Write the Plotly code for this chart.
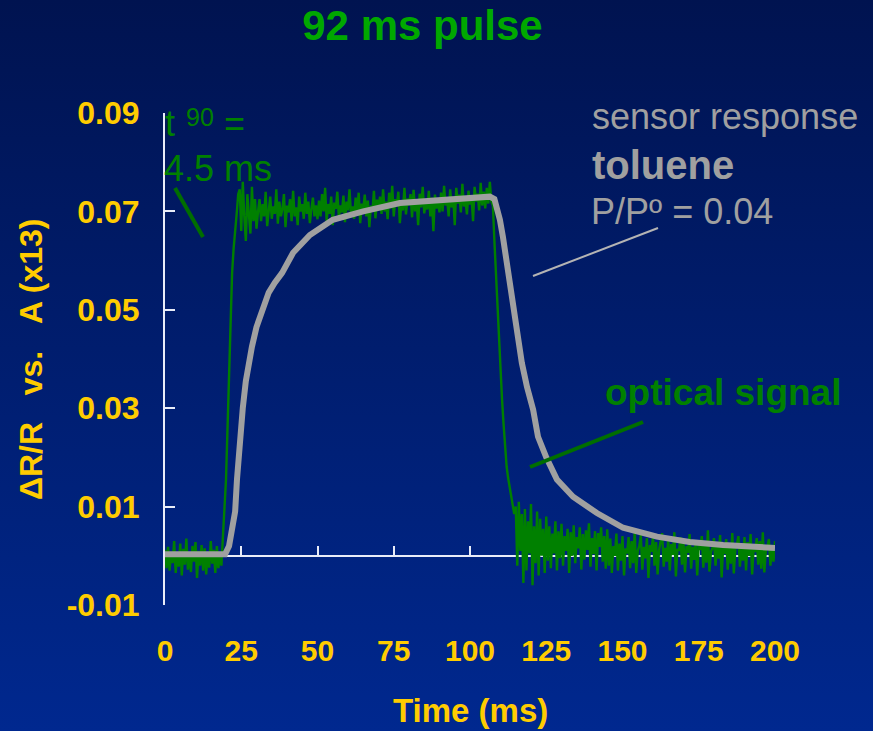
import base64
import numpy as np
import plotly.graph_objects as go

# ---------------------------------------------------------------
# Data (values in units of 1e-4 of dR/R), optical signal sampled every 0.5 ms
# ---------------------------------------------------------------
STEP_MS = 0.5

optical_baseline = [12, -25, 18, -30, 8, -15, 30, -35, 5, -22,
                    25, -40, 14, -18, 35, -28, 2, -33, 20, -12,
                    28, -45, 10, -20, 22, -30, 15, -38, 6, -24,
                    30, -16, 12, -35, 20, -25, 8, -20]                 # 0 - 18.5 ms
optical_rise = [40, 90, 155, 260, 380, 480, 575, 625, 655, 695, 735]  # 19 - 24 ms
optical_plateau = [
    745, 660, 760, 690, 640, 735, 700, 655, 750, 680, 725, 665,
    700, 725, 680, 715, 690, 740, 670, 705, 730, 685, 710, 695, 745, 675, 720, 690,
    705, 735, 668, 712, 698, 725, 680, 742, 690, 708, 672, 730, 700, 715, 685, 738,
    695, 720, 676, 705, 728, 690, 712, 684,
    722, 690, 735, 700, 748, 680, 715, 695, 730, 672, 718, 705, 740, 688, 712, 698,
    732, 678, 720, 702, 745, 692, 710, 685, 728, 700, 738, 676, 716, 704, 734, 690,
    722, 668, 712, 700, 742, 686, 724, 706,
    730, 695, 745, 700, 720, 684, 738, 706, 752, 690, 725, 710, 740, 676, 718, 702,
    748, 694, 726, 712, 735, 688, 744, 700, 722, 672, 736, 708, 750, 696, 718, 704,
    742, 690, 728, 660, 734, 706, 720, 698,
    738, 700, 752, 712, 726, 690, 745, 708, 730, 672, 748, 716, 734, 698, 756, 710,
    724, 694, 742, 714, 730, 680, 750, 720, 736, 702, 758, 712, 740, 706, 748, 716,
    760, 720]                                                          # 24.5 - 107 ms
optical_fall = [712, 640, 570, 505, 440, 372, 318, 268, 222, 182,
                158, 138, 120, 104, 85]                                # 107.5 - 114.5 ms
optical_tail = [
    100, -20, 110, 10, 85, -55, 95, -30, 70, 5, 105, -60, 60, -15, 90, -40, 75, 0,
    55, -35, 80,
    -10, 60, -25, 45, 5, 70, -30, 50, -5, 65, -20, 40, 10, 55, -35, 48, 0, 62, -15,
    38, 15, 58, -28, 44, -8, 52, 12, 66, -22, 36, 4, 50, -30, 46, 18, 58, -12, 40,
    -26, 54,
    -20, 35, -35, 20, 0, 45, -30, 25, -10, 40, -40, 15, 5, 38, -25, 30, -15, 50,
    -35, 10, 20, 42, -28, 18, -5, 36, -45, 22, 8, 40, -20, 28, -38, 12, 30, 46,
    -22, 16, -12, 34, -30, 24, 2, 48, -42, 14, 10, 38, -18, 26, -34, 20, 6, 44,
    -26, 18, -8, 32, -40, 22, 12, 40, -24, 30, -14, 52, -32, 8, 16, 36, -20, 24,
    -6, 42, -44, 18, 4, 34, -28, 26, -16, 46, -36, 14, 22, 40, -22, 20, -10, 38,
    -30, 28, 0, 44, -38, 16, 8, 36, -18, 30, -26, 48, -34, 12, 18, 34, -20, 22,
    -12, 30]                                                           # 115 - 200 ms

# sensor (chemiresistor) response, irregular sampling
sensor_t = [0, 5, 10, 15, 19.7, 21, 22, 23, 23.6, 24.5, 25.5, 26.5, 27.5, 28.5,
            30, 32, 34, 36, 38.4, 42, 47.5, 55, 65, 77, 87, 100, 106.5, 108,
            108.8, 109.8, 110.8, 112.1, 113.8, 115.4, 117, 118.7, 120.7, 122.3,
            125, 128.5, 133.8, 141.6, 150.2, 161.3, 172, 183, 200]
sensor_v = [3, 3, 2, 3, 3, 20, 49, 90, 155, 230, 300, 355, 395, 425,
            465, 505, 535, 555, 575, 616, 652, 683, 700, 717, 722, 728, 730, 725,
            710, 683, 648, 595, 526, 445, 392, 343, 297, 242,
            200, 155, 120, 87, 57, 39, 28, 22, 16]

x_ticks = [0, 25, 50, 75, 100, 125, 150, 175, 200]
y_ticks = [-0.01, 0.01, 0.03, 0.05, 0.07, 0.09]
y_tick_text = ["-0.01", "0.01", "0.03", "0.05", "0.07", "0.09"]

SCALE = 1e-4
optical_v = np.array(optical_baseline + optical_rise + optical_plateau
                     + optical_fall + optical_tail) * SCALE
optical_t = np.arange(len(optical_v)) * STEP_MS
sensor_y = np.array(sensor_v) * SCALE

# ---------------------------------------------------------------
# Layout geometry (pixels)
# ---------------------------------------------------------------
W, H = 873, 731
ML, MR, MT, MB = 165, 98, 113, 126
PW, PH = W - ML - MR, H - MT - MB
Y_MIN, Y_MAX = -0.01, 0.09

def fx(px):
    return (px - ML) / PW

def fy(py):
    return (H - MB - py) / PH

FONT = "Liberation Sans, Arial, sans-serif"
YELLOW = "#FFCC00"
GREEN = "#008000"
GREY = "#A0A0A0"
AXIS = "#E8ECF8"

# vertical blue gradient for the page background
svg = (f'<svg xmlns="http://www.w3.org/2000/svg" width="{W}" height="{H}" '
       f'preserveAspectRatio="none"><defs><linearGradient id="g" x1="0" y1="0" '
       f'x2="0" y2="1"><stop offset="0" stop-color="#001350"/>'
       f'<stop offset="1" stop-color="#00288F"/></linearGradient></defs>'
       f'<rect width="{W}" height="{H}" fill="url(#g)"/></svg>')
bg_uri = "data:image/svg+xml;base64," + base64.b64encode(svg.encode()).decode()

fig = go.Figure()
# invisible point that makes the time axis drawn at y = 0 render
fig.add_trace(go.Scatter(x=[0], y=[0], xaxis="x2", mode="markers",
                         marker=dict(opacity=0), hoverinfo="skip"))
fig.add_trace(go.Scatter(x=optical_t, y=optical_v, mode="lines",
                         line=dict(color=GREEN, width=2.4), hoverinfo="skip"))
fig.add_trace(go.Scatter(x=sensor_t, y=sensor_y, mode="lines",
                         line=dict(color=GREY, width=6), hoverinfo="skip"))

fig.update_layout(
    width=W, height=H,
    margin=dict(l=ML, r=MR, t=MT, b=MB),
    paper_bgcolor="#001E70",
    plot_bgcolor="rgba(0,0,0,0)",
    showlegend=False,
    images=[dict(source=bg_uri, xref="paper", yref="paper",
                 x=-ML / PW, y=1 + MT / PH, sizex=W / PW, sizey=H / PH,
                 xanchor="left", yanchor="top", sizing="stretch", layer="below")],
    title=dict(text="92 ms pulse", x=422.5 / W, xanchor="center",
               y=1 - 25 / H, yanchor="middle",
               font=dict(family=FONT, size=42, color="#00A800", weight="bold")),
    xaxis=dict(range=[0, 200], showline=False, showgrid=False, zeroline=False,
               ticks="", tickvals=x_ticks, ticklabelstandoff=25,
               tickfont=dict(family=FONT, size=30, color=YELLOW, weight="bold")),
    xaxis2=dict(range=[0, 200], overlaying="x", anchor="free",
                position=(0 - Y_MIN) / (Y_MAX - Y_MIN), layer="below traces",
                showline=True, linecolor=AXIS, linewidth=2, showgrid=False,
                zeroline=False, ticks="inside", ticklen=9, tickwidth=2,
                tickcolor=AXIS, tickvals=x_ticks[1:], showticklabels=False),
    yaxis=dict(range=[Y_MIN, Y_MAX], showline=True, linecolor=AXIS, linewidth=2,
               showgrid=False, zeroline=False, ticks="inside", ticklen=10,
               tickwidth=2, tickcolor=AXIS, tickvals=y_ticks, ticktext=y_tick_text,
               ticklabelstandoff=17,
               tickfont=dict(family=FONT, size=32, color=YELLOW, weight="bold")),
)

ann = [
    # axis titles
    dict(text="\u0394R/R\u00a0\u00a0\u00a0vs.\u00a0\u00a0\u00a0A (x13)", x=fx(31), y=fy(360),
         textangle=-90, xanchor="center", yanchor="middle",
         font=dict(family=FONT, size=32, color=YELLOW, weight="bold")),
    dict(text="Time (ms)", x=fx(470), y=fy(710), xanchor="center", yanchor="middle",
         font=dict(family=FONT, size=33, color=YELLOW, weight="bold")),
    # rise-time note
    dict(text="t", x=fx(163), y=fy(123), xanchor="left", yanchor="middle",
         font=dict(family=FONT, size=36, color=GREEN)),
    dict(text="90", x=fx(184), y=fy(117), xanchor="left", yanchor="middle",
         font=dict(family=FONT, size=25, color=GREEN)),
    dict(text="=", x=fx(222), y=fy(123), xanchor="left", yanchor="middle",
         font=dict(family=FONT, size=36, color=GREEN)),
    dict(text="4.5 ms", x=fx(162), y=fy(169), xanchor="left", yanchor="middle",
         font=dict(family=FONT, size=36, color=GREEN)),
    # sensor label
    dict(text="sensor response", x=fx(590), y=fy(116), xanchor="left", yanchor="middle",
         font=dict(family=FONT, size=36, color=GREY)),
    dict(text="toluene", x=fx(590), y=fy(165), xanchor="left", yanchor="middle",
         font=dict(family=FONT, size=40, color=GREY, weight="bold")),
    dict(text="P/P\u00ba = 0.04", x=fx(589), y=fy(212), xanchor="left", yanchor="middle",
         font=dict(family=FONT, size=36, color=GREY)),
    # optical label
    dict(text="optical signal", x=fx(603), y=fy(392), xanchor="left", yanchor="middle",
         font=dict(family=FONT, size=37, color=GREEN, weight="bold")),
]
for a in ann:
    a.update(xref="paper", yref="paper", showarrow=False)
fig.update_layout(annotations=ann)

# pointer lines from the labels to the curves
pointers = [((175, 188), (203, 237), "#006E00", 4),
            ((533, 276), (658, 228), "#B4B4B4", 2),
            ((530, 467), (643, 422), "#006E00", 4)]
for (x0, y0), (x1, y1), col, lw in pointers:
    fig.add_shape(type="line", xref="paper", yref="paper",
                  x0=fx(x0), y0=fy(y0), x1=fx(x1), y1=fy(y1),
                  line=dict(color=col, width=lw))

fig.write_html("out.html")
